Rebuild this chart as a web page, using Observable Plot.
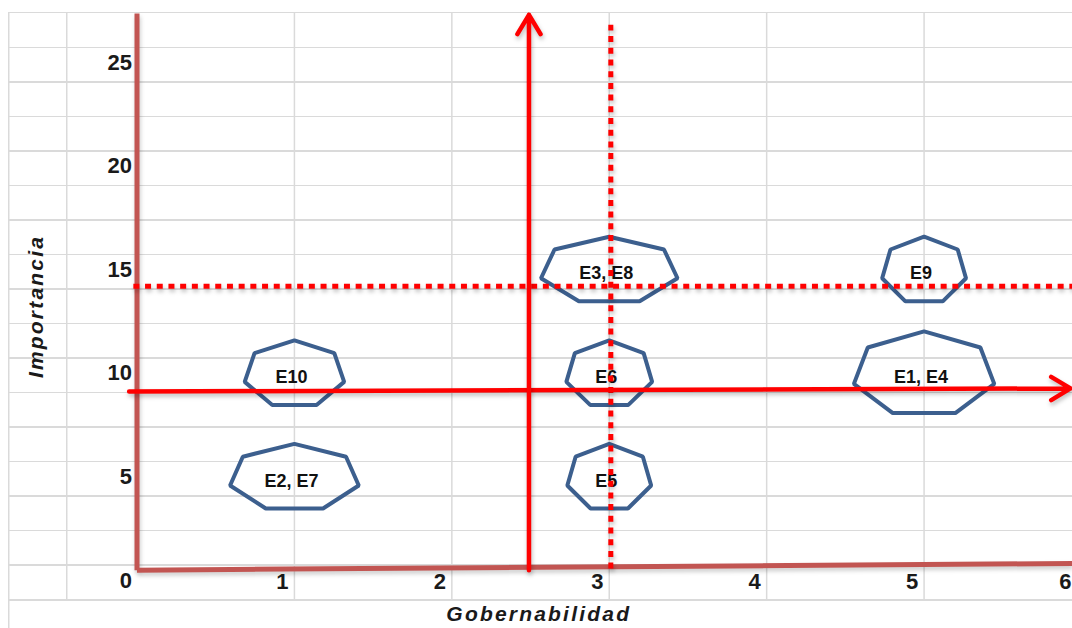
<!DOCTYPE html>
<html lang="es">
<head>
<meta charset="utf-8">
<title>Importancia vs Gobernabilidad</title>
<script src="https://cdn.jsdelivr.net/npm/d3@7"></script>
<script src="https://cdn.jsdelivr.net/npm/@observablehq/plot@0.6"></script>
<style>
  html, body { margin: 0; padding: 0; background: #fff; }
  /* worksheet cells behind the diagram */
  #hoja {
    position: relative;
    width: 1072px;
    height: 628px;
    overflow: hidden;
    background:
      linear-gradient(#dadada, #dadada) 8px 12px / 1.5px 616px no-repeat,
      linear-gradient(#dadada, #dadada) 66px 12px / 1.5px 589px no-repeat,
      repeating-linear-gradient(to bottom, #dadada 0 1.5px, transparent 1.5px 34.53px) 8px 12px / 1064px 590px no-repeat;
  }
  #hoja svg { display: block; }
  #hoja g[stroke="#ff0000"] { filter: drop-shadow(1px 3px 2px rgba(0, 0, 0, 0.25)); }
  #hoja g[stroke="#c25552"] { filter: drop-shadow(1px 3px 2px rgba(0, 0, 0, 0.2)); }
</style>
</head>
<body>
<div id="hoja"></div>
<script>
// Entornos, with their governability (x) and importance (y) scores
const entornos = ["E1, E4", "E2, E7", "E3, E8", "E5", "E6", "E9", "E10"];
const gobernabilidad = [5, 1, 3, 3, 3, 5, 1];
const importancia = [10, 5, 15, 5, 10, 15, 10];

// Axis ticks
const ticksX = [1, 2, 3, 4, 5, 6];
const ticksY = [0, 5, 10, 15, 20, 25];

// Quadrant dividers (solid arrows) and reference levels (dotted)
const divisorGob = {x: 2.49, y1: 0.5, y2: 27.3};
const divisorImp = {x1: -0.05, y1: 9.12, x2: 5.93, y2: 9.27};
const referenciaGob = {x: 3.01, y1: 0.55, y2: 26.8};
const referenciaImp = {y: 14.2, x1: -0.02, x2: 6};

// Hand-drawn frame of the diagram
const marcoVertical = {x: 0, y1: 0.5, y2: 27.36};
const marcoHorizontal = {x1: 0, y1: 0.5, x2: 5.94, y2: 0.82};

// Layout: scales
const X = {domain: [0, 6], range: [136.5, 1081]};
const Y = {domain: [0, 25], range: [580, 62]};
const sx = d3.scaleLinear(X.domain, X.range);
const sy = d3.scaleLinear(Y.domain, Y.range);

// Half-width / half-height (px) of the heptagon drawn round each label
const forma = {
  "E1, E4": [72, 43],
  "E2, E7": [66, 34],
  "E3, E8": [70, 34],
  "E5": [43, 34],
  "E6": [44, 34],
  "E9": [43, 34],
  "E10": [51, 34]
};

const vertices = entornos.flatMap((e, i) => {
  const [rx, ry] = forma[e];
  const cx = sx(gobernabilidad[i]);
  const cy = sy(importancia[i]) + 1;
  return d3.range(7).map(k => {
    const a = Math.PI / 2 - k * 2 * Math.PI / 7;
    return {e, x: sx.invert(cx + rx * Math.cos(a)), y: sy.invert(cy - ry * Math.sin(a))};
  });
});

const rojo = "#ff0000";
const granate = "#c25552";
const fuente = "'Liberation Sans', Arial, sans-serif";
const tickStyle = {fontSize: 22, fontWeight: "bold", fontFamily: fuente, fill: "#1a1a1a"};
const tituloStyle = {fontSize: 21, fontWeight: "bold", fontStyle: "italic", fontFamily: fuente, fill: "#1a1a1a"};
const ultimoX = ticksX[ticksX.length - 1];

const chart = Plot.plot({
  width: 1072,
  height: 628,
  marginLeft: 136.5,
  marginRight: 0,
  marginTop: 62,
  marginBottom: 48,
  style: {background: "transparent", overflow: "hidden"},
  x: {...X, axis: null},
  y: {...Y, axis: null},
  marks: [
    // column lines of the sheet at each integer governability value
    Plot.ruleX(ticksX, {x: d => d, y1: sy.invert(12.7), y2: sy.invert(600), stroke: "#dadada", strokeWidth: 1.5}),

    // heptagons round each group of entornos
    Plot.line(vertices, {x: "x", y: "y", z: "e", curve: "linear-closed", stroke: "#3c5f8e", strokeWidth: 4, strokeLinejoin: "miter"}),
    Plot.text(entornos, {
      x: (d, i) => gobernabilidad[i], y: (d, i) => importancia[i], text: d => d,
      dx: -3, dy: 4, fontSize: 18, fontWeight: "bold", fontFamily: fuente, fill: "#111"
    }),

    // tick labels (the last x label is kept inside the sheet's right edge)
    Plot.text(ticksY, {x: 0, y: d => d, text: d => String(d), dx: -5, textAnchor: "end", ...tickStyle}),
    Plot.text(ticksX.filter(d => d !== ultimoX), {x: d => d, y: 0, text: d => String(d), dx: -12, dy: 1, ...tickStyle}),
    Plot.text([ultimoX], {x: d => d, y: 0, text: d => String(d), dx: -10, dy: 1, textAnchor: "end", ...tickStyle}),

    // axis titles
    Plot.text(["Importancia"], {frameAnchor: "left", textAnchor: "middle", lineAnchor: "middle", rotate: -90, dx: -101, dy: -15, ...tituloStyle}),
    Plot.text(["Gobernabilidad"], {frameAnchor: "bottom", textAnchor: "middle", lineAnchor: "middle", dx: -66, dy: 33.5, ...tituloStyle}),

    // frame
    Plot.link([marcoVertical], {x1: "x", x2: "x", y1: "y1", y2: "y2", stroke: granate, strokeWidth: 5}),
    Plot.link([marcoHorizontal], {x1: "x1", y1: "y1", x2: "x2", y2: "y2", stroke: granate, strokeWidth: 5}),

    // dotted reference levels
    Plot.ruleX([referenciaGob], {x: "x", y1: "y1", y2: "y2", stroke: rojo, strokeWidth: 5, strokeDasharray: "6,5.7"}),
    Plot.ruleY([referenciaImp], {y: "y", x1: "x1", x2: "x2", stroke: rojo, strokeWidth: 5, strokeDasharray: "6,5.7"}),

    // quadrant dividers
    Plot.arrow([divisorImp], {x1: "x1", y1: "y1", x2: "x2", y2: "y2", stroke: rojo, strokeWidth: 4.5,
      headLength: 7.5, headAngle: 62, strokeLinecap: "round", strokeLinejoin: "round"}),
    Plot.arrow([divisorGob], {x1: "x", x2: "x", y1: "y1", y2: "y2", stroke: rojo, strokeWidth: 4.5,
      headLength: 7.5, headAngle: 62, strokeLinecap: "round", strokeLinejoin: "round"})
  ]
});

chart.querySelectorAll("text").forEach(t => {
  if (t.textContent === "Importancia" || t.textContent === "Gobernabilidad") {
    t.style.letterSpacing = "2.2px";
  }
});

document.getElementById("hoja").appendChild(chart);
</script>
</body>
</html>
